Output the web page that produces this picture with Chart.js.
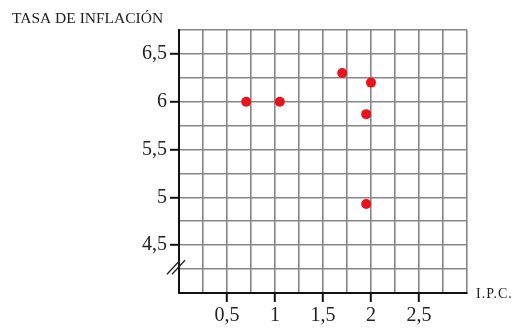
<!DOCTYPE html>
<html>
<head>
<meta charset="utf-8">
<script src="https://cdn.jsdelivr.net/npm/chart.js@4"></script>
<style>
  body { margin: 0; background: #fff; }
  #wrap { width: 514px; height: 328px; }
</style>
</head>
<body>
<div id="wrap"><canvas id="scatterChart" width="514" height="328"></canvas></div>
<script>
// data
const ipc = [0.7, 1.05, 1.7, 2.0, 1.95, 1.95];
const inflacion = [6.0, 6.0, 6.3, 6.2, 5.87, 4.93];
const xTicks = [0.5, 1, 1.5, 2, 2.5];
const yTicks = [4.5, 5, 5.5, 6, 6.5];

const points = ipc.map((x, i) => ({ x: x, y: inflacion[i] }));
const coma = v => String(v).replace('.', ',');
const serif = '"Liberation Serif", "DejaVu Serif", serif';
const gridGray = '#878787';

const extras = {
  id: 'extras',
  afterDraw(chart) {
    const c = chart.ctx;
    const a = chart.chartArea;
    c.save();
    c.fillStyle = '#222';
    c.textBaseline = 'alphabetic';
    c.font = '15.5px ' + serif;
    c.fillText('TASA DE INFLACIÓN', 12, 23);
    c.font = '14px ' + serif;
    c.letterSpacing = '1px';
    c.fillText('I.P.C.', 476, 298);
    c.letterSpacing = '0px';
    // axis break marks
    const yb = chart.scales.y.getPixelForValue(4.3);
    c.strokeStyle = '#222';
    c.lineWidth = 1.3;
    [-3, 2].forEach(d => {
      c.beginPath();
      c.moveTo(a.left - 9 + d, yb + 10);
      c.lineTo(a.left + 4 + d, yb - 4);
      c.stroke();
    });
    c.restore();
  }
};

const config = {
  type: 'scatter',
  data: {
    datasets: [{
      label: 'Tasa de inflación',
      data: points,
      backgroundColor: '#e8131c',
      borderWidth: 0,
      pointRadius: 5,
      pointHoverRadius: 5,
    }],
  },
  options: {
    responsive: false,
    animation: false,
    layout: { padding: { top: 30, right: 47, left: 0, bottom: 0 } },
    plugins: { legend: { display: false }, tooltip: { enabled: false } },
    scales: {
      x: {
        type: 'linear',
        min: 0,
        max: 3,
        afterFit: s => { s.height = 35; },
        afterBuildTicks: s => {
          s.ticks = [];
          for (let i = 0; i <= 12; i++) s.ticks.push({ value: i * 0.25 });
        },
        border: { color: '#111', width: 2 },
        grid: {
          color: gridGray,
          lineWidth: 1.6,
          tickLength: 9,
          tickColor: ctx => xTicks.includes(ctx.tick.value) ? '#111' : 'rgba(0,0,0,0)',
          tickWidth: 2,
        },
        ticks: {
          autoSkip: false,
          maxRotation: 0,
          padding: 2,
          color: '#222',
          font: { family: serif, size: 20 },
          callback: v => xTicks.includes(v) ? coma(v) : '',
        },
      },
      y: {
        type: 'linear',
        min: 4,
        max: 6.75,
        afterFit: s => { s.width = 179; },
        afterBuildTicks: s => {
          s.ticks = [];
          for (let i = 0; i <= 11; i++) s.ticks.push({ value: 4 + i * 0.25 });
        },
        border: { color: '#111', width: 2 },
        grid: {
          color: gridGray,
          lineWidth: 1.6,
          tickLength: 9,
          tickColor: ctx => yTicks.includes(ctx.tick.value) ? '#111' : 'rgba(0,0,0,0)',
          tickWidth: 2,
        },
        ticks: {
          autoSkip: false,
          padding: 3,
          color: '#222',
          font: { family: serif, size: 20 },
          callback: v => yTicks.includes(v) ? coma(v) : '',
        },
      },
    },
  },
  plugins: [extras],
};

const ctx = document.getElementById('scatterChart').getContext('2d');
const scatterChart = new Chart(ctx, config);
</script>
</body>
</html>
